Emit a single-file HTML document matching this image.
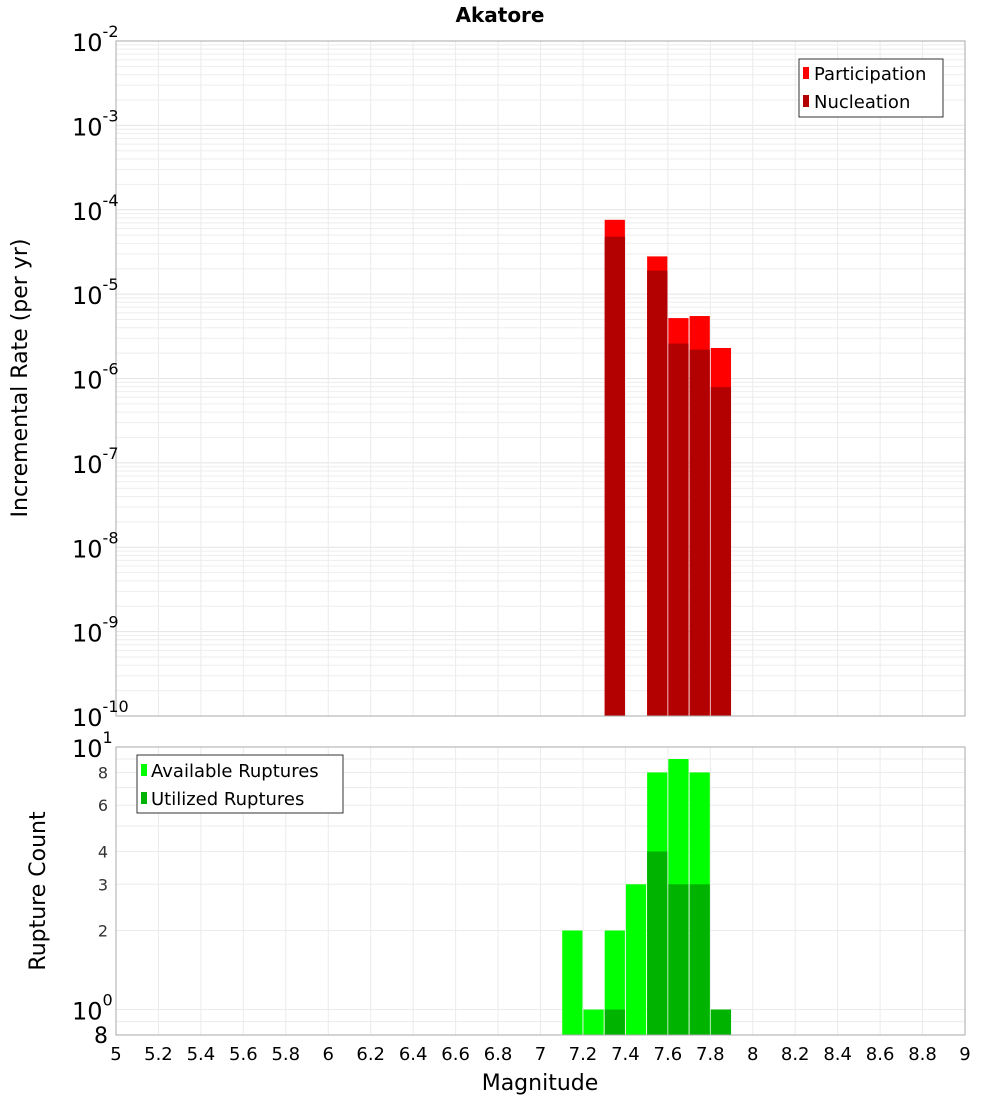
<!DOCTYPE html>
<html><head><meta charset="utf-8"><style>
body{margin:0;background:#fff;font-family:"Liberation Sans","DejaVu Sans",sans-serif}
svg text{font-family:"DejaVu Sans","Liberation Sans",sans-serif}
</style></head><body>
<svg id="c" width="1000" height="1100" xmlns="http://www.w3.org/2000/svg">
<text x="500" y="22" text-anchor="middle" font-size="20" font-weight="bold">Akatore</text>
<g id="topg"></g>
<g id="botg"></g>
<text transform="translate(27,378) rotate(-90)" text-anchor="middle" font-size="22">Incremental Rate (per yr)</text>
<text transform="translate(45,891) rotate(-90)" text-anchor="middle" font-size="22">Rupture Count</text>
<text x="540" y="1090" text-anchor="middle" font-size="22">Magnitude</text>
</svg>
<script>
const mags=[7.3,7.5,7.6,7.7,7.8];
const participation=[7.6e-5,2.8e-5,5.2e-6,5.5e-6,2.3e-6];
const nucleation=[4.8e-5,1.9e-5,2.6e-6,2.2e-6,7.9e-7];
const cMags=[7.1,7.2,7.3,7.4,7.5,7.6,7.7,7.8];
const available=[2,1,2,3,8,9,8,1];
const utilized=[0,0,1,0,4,3,3,1];
const xTicks=[5,5.2,5.4,5.6,5.8,6,6.2,6.4,6.6,6.8,7,7.2,7.4,7.6,7.8,8,8.2,8.4,8.6,8.8,9];
const topDecades=[-10,-9,-8,-7,-6,-5,-4,-3,-2];
const botTicks=[2,3,4,6,8];
const NS="http://www.w3.org/2000/svg";
const L=116,R=965,T1=41,B1=716,T2=747,B2=1035;
const X=m=>L+(m-5)/4*(R-L);
const Y1=v=>T1+(-2-Math.log10(v))/8*(B1-T1);
const pd=(B2-T2)/(1-Math.log10(0.8));
const Y2=v=>T2+(1-Math.log10(v))*pd;
function el(p,t,a,txt){const e=document.createElementNS(NS,t);for(const k in a)e.setAttribute(k,a[k]);if(txt!==undefined)e.textContent=txt;p.appendChild(e);return e;}
const topG=document.getElementById('topg'),botG=document.getElementById('botg');
for(let d=-10;d<-2;d++)for(let i=1;i<10;i++){const y=Y1(i*Math.pow(10,d));
const g=el(topG,'line',{x1:L,x2:R,y1:y,y2:y,stroke:i==1?'#e4e4e4':'#eeeeee','stroke-width':1});

}
xTicks.forEach(m=>{const x=X(m);
const g=el(topG,'line',{x1:x,x2:x,y1:T1,y2:B1,stroke:'#ebebeb'});


const g2=el(botG,'line',{x1:x,x2:x,y1:T2,y2:B2,stroke:'#ebebeb'});

});
const bw=X(5.1)-X(5);
mags.forEach((m,i)=>{
const a=el(topG,'rect',{x:X(m)+0.5,y:Y1(participation[i]),width:bw-1,height:B1-Y1(participation[i]),fill:'#ff0000'});


const b=el(topG,'rect',{x:X(m)+0.5,y:Y1(nucleation[i]),width:bw-1,height:B1-Y1(nucleation[i]),fill:'#b30000'});

});
el(topG,'rect',{x:L,y:T1,width:R-L,height:B1-T1,fill:'none',stroke:'#aaa'});
topDecades.forEach(d=>{const y=Y1(Math.pow(10,d));
const t=el(topG,'text',{x:72,y:y+10,'font-size':24},'10');


el(t,'tspan',{dy:-14,'font-size':16},String(d));});
const lg=el(topG,'g',{});


el(lg,'rect',{x:799,y:59,width:144,height:58,fill:'#fff',stroke:'#333'});
el(lg,'rect',{x:803,y:67,width:6,height:12,fill:'#ff0000'});
el(lg,'text',{x:814,y:80,'font-size':18},'Participation');
el(lg,'rect',{x:803,y:95,width:6,height:12,fill:'#b30000'});
el(lg,'text',{x:814,y:108,'font-size':18},'Nucleation');
for(let v=1;v<=10;v++){const y=Y2(v);const g=el(botG,'line',{x1:L,x2:R,y1:y,y2:y,stroke:'#ebebeb'});

}
{const y=Y2(0.9);el(botG,'line',{x1:L,x2:R,y1:y,y2:y,stroke:'#ebebeb'});}
cMags.forEach((m,i)=>{
const a=el(botG,'rect',{x:X(m)+0.5,y:Y2(available[i]),width:bw-1,height:B2-Y2(available[i]),fill:'#00ff00'});


if(utilized[i]>0){const b=el(botG,'rect',{x:X(m)+0.5,y:Y2(utilized[i]),width:bw-1,height:B2-Y2(utilized[i]),fill:'#00b300'});

}});
el(botG,'rect',{x:L,y:T2,width:R-L,height:B2-T2,fill:'none',stroke:'#aaa'});
botTicks.forEach(v=>{const t=el(botG,'text',{x:108,y:Y2(v)+6,'font-size':16,'text-anchor':'end',fill:'#333'},String(v));

});
{let t=el(botG,'text',{x:72,y:Y2(10)+10,'font-size':24},'10');el(t,'tspan',{dy:-14,'font-size':16},'1');
t=el(botG,'text',{x:72,y:Y2(1)+10,'font-size':24},'10');el(t,'tspan',{dy:-14,'font-size':16},'0');
el(botG,'text',{x:108,y:B2+8,'font-size':22,'text-anchor':'end'},'8');}
xTicks.forEach(m=>{const t=el(botG,'text',{x:X(m),y:1060,'font-size':18,'text-anchor':'middle'},String(m));

});
const lb=el(botG,'g',{});


el(lb,'rect',{x:137,y:755,width:206,height:58,fill:'#fff',stroke:'#333'});
el(lb,'rect',{x:141,y:764,width:6,height:12,fill:'#00ff00'});
el(lb,'text',{x:151,y:777,'font-size':18},'Available Ruptures');
el(lb,'rect',{x:141,y:792,width:6,height:12,fill:'#00b300'});
el(lb,'text',{x:151,y:805,'font-size':18},'Utilized Ruptures');
</script>
</body></html>
